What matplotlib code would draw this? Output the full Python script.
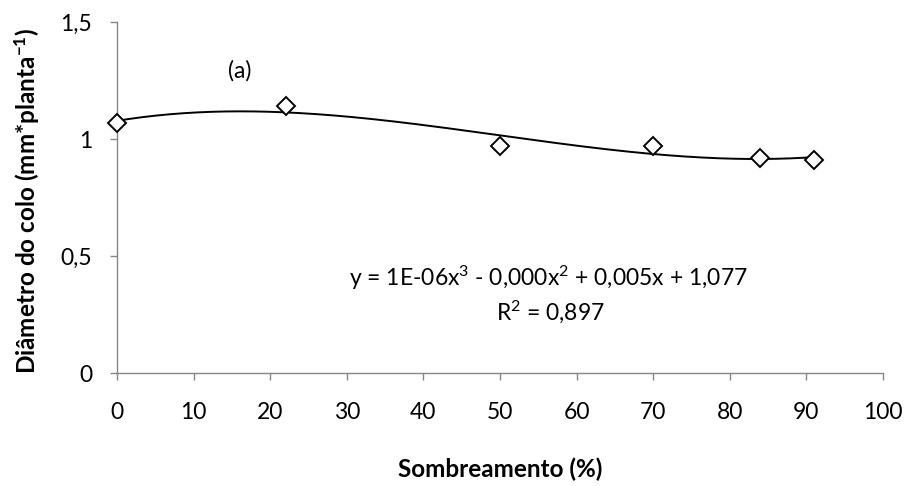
import numpy as np
import matplotlib
matplotlib.use("Agg")
import matplotlib.pyplot as plt

plt.rcParams['font.family'] = ['Lato', 'DejaVu Sans']
plt.rcParams['mathtext.fontset'] = 'custom'
plt.rcParams['mathtext.rm'] = 'Lato'
plt.rcParams['mathtext.it'] = 'Lato'
plt.rcParams['mathtext.bf'] = 'Lato:bold'

# data
sombreamento = [0, 22, 50, 70, 84, 91]
diametro = [1.07, 1.14, 0.97, 0.97, 0.92, 0.91]

x_ticks = [0, 10, 20, 30, 40, 50, 60, 70, 80, 90, 100]
y_ticks = [0, 0.5, 1, 1.5]
y_tick_labels = ['0', '0,5', '1', '1,5']

equation = r'y = 1E-06x$^{3}$ - 0,000x$^{2}$ + 0,005x + 1,077'
r2_text = r'R$^{2}$ = 0,897'

gray = '#868686'
fs = 16.5

fig = plt.figure(figsize=(9.06, 4.86), dpi=100)
ax = fig.add_axes([117 / 906, 1 - 373 / 486, 766 / 906, 351 / 486])

# cubic trend line (polynomial order 3, like the spreadsheet trendline)
coef = np.polyfit(sombreamento, diametro, 3)
xs = np.linspace(min(sombreamento), max(sombreamento), 200)
ax.plot(xs, np.polyval(coef, xs), color='black', lw=1.4, zorder=2)

ax.plot(sombreamento, diametro, linestyle='none', marker='D', ms=9.5,
        mfc='white', mec='black', mew=1.4, zorder=3, clip_on=False)

ax.set_xlim(0, 100)
ax.set_ylim(0, 1.5)
ax.set_xticks(x_ticks)
ax.set_yticks(y_ticks)
ax.set_yticklabels(y_tick_labels)

for side in ['top', 'right']:
    ax.spines[side].set_visible(False)
for side in ['left', 'bottom']:
    ax.spines[side].set_color(gray)
    ax.spines[side].set_linewidth(1.0)

ax.tick_params(axis='both', colors=gray, length=5, width=1.0, labelsize=fs,
               labelcolor='black')
ax.tick_params(axis='x', pad=16)
ax.tick_params(axis='y', pad=13)

ax.text(16, 1.29, '(a)', fontsize=fs, ha='center', va='center')
ax.text(56.3, 0.406, equation, fontsize=fs, ha='center', va='center')
ax.text(56.6, 0.262, r2_text, fontsize=fs, ha='center', va='center')

fig.text(500 / 906, 1 - 469 / 486, 'Sombreamento (%)', fontsize=17.5,
         fontweight='bold', ha='center', va='center')
fig.text(27 / 906, 1 - 201 / 486, r'Diâmetro do colo (mm*planta$^{\mathbf{-1}}$)',
         fontsize=17.5, fontweight='bold', rotation=90, ha='center', va='center')

fig.savefig('out.png', dpi=100)
